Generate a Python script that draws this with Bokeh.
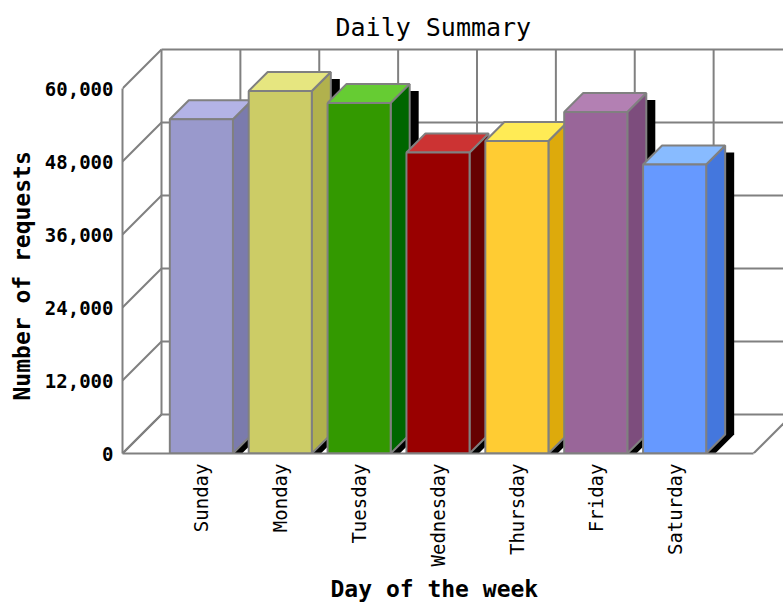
import math
from bokeh.plotting import figure
from bokeh.models import Range1d, FixedTicker, NumeralTickFormatter, Title
from bokeh.embed import file_html
from bokeh.resources import INLINE

# ---------------- data ----------------
days = ["Sunday", "Monday", "Tuesday", "Wednesday", "Thursday", "Friday", "Saturday"]
requests = [54950, 59600, 57630, 49470, 51380, 56150, 47500]
y_ticks = [0, 12000, 24000, 36000, 48000, 60000]

front_colors = ["#9999CC", "#CCCC66", "#339900", "#990000", "#FFCC33", "#996699", "#6699FF"]
top_colors = ["#B3B3E6", "#E6E680", "#66CC33", "#CC3333", "#FFEB55", "#B380B3", "#88BBFF"]
side_colors = ["#7B7BAD", "#B1B14D", "#006600", "#660000", "#DDAA0C", "#7D4D7D", "#4477DD"]

# ---------------- geometry / style ----------------
N_SLOTS = len(days) + 1
Y_MAX = y_ticks[-1]
FRAME_W, FRAME_H = 661, 406
PX_PER_SLOT = 631 / N_SLOTS
PX_PER_UNIT = 365 / Y_MAX


def px_x(n):
    return n / PX_PER_SLOT


def px_y(n):
    return n / PX_PER_UNIT


WX, WY = px_x(39), px_y(39)        # wall depth
BX, BY = px_x(19), px_y(19)        # bar depth
SHX, SHY = px_x(9), px_y(7)        # drop shadow offset
BAR_W = 0.8
GREY = "#808080"
FONT = "DejaVu Sans Mono"

p = figure(
    frame_width=FRAME_W, frame_height=FRAME_H,
    x_range=Range1d(0, FRAME_W / PX_PER_SLOT),
    y_range=Range1d(0, FRAME_H / PX_PER_UNIT),
    output_backend="svg", toolbar_location=None,
    min_border_left=122, min_border_right=0, min_border_top=47, min_border_bottom=153,
    background_fill_color="white", border_fill_color="white",
)
p.outline_line_color = None
p.xgrid.visible = False
p.ygrid.visible = False

# ---------------- walls ----------------
p.segment(x0=[WX] * len(y_ticks), y0=[t + WY for t in y_ticks],
          x1=[N_SLOTS + WX] * len(y_ticks), y1=[t + WY for t in y_ticks],
          line_color=GREY, line_width=2)
p.segment(x0=[k + WX for k in range(N_SLOTS + 1)], y0=[WY] * (N_SLOTS + 1),
          x1=[k + WX for k in range(N_SLOTS + 1)], y1=[Y_MAX + WY] * (N_SLOTS + 1),
          line_color=GREY, line_width=2)
p.segment(x0=[0] * len(y_ticks), y0=y_ticks,
          x1=[WX] * len(y_ticks), y1=[t + WY for t in y_ticks],
          line_color=GREY, line_width=2)
p.segment(x0=[0, N_SLOTS], y0=[0, 0], x1=[WX, N_SLOTS + WX], y1=[WY, WY],
          line_color=GREY, line_width=2)

# ---------------- bars ----------------
centers = [i + 1 for i in range(len(days))]
L = [c - BAR_W / 2 for c in centers]
R = [c + BAR_W / 2 for c in centers]

shadow_xs, shadow_ys = [], []
side_xs, side_ys, top_xs, top_ys = [], [], [], []
for l, r, v in zip(L, R, requests):
    st = v - SHY
    shadow_xs.append([l + SHX, l + SHX, l + SHX + BX, r + SHX + BX, r + SHX + BX, r + SHX])
    shadow_ys.append([0, st, st + BY, st + BY, BY, 0])
    side_xs.append([r, r, r + BX, r + BX])
    side_ys.append([0, v, v + BY, BY])
    top_xs.append([l, r, r + BX, l + BX])
    top_ys.append([v, v, v + BY, v + BY])

p.patches(shadow_xs, shadow_ys, fill_color="black", line_color=None)
p.patches(side_xs, side_ys, fill_color=side_colors, line_color=GREY, line_width=2)
p.patches(top_xs, top_ys, fill_color=top_colors, line_color=GREY, line_width=2)
p.quad(left=L, right=R, bottom=[0] * len(days), top=requests,
       fill_color=front_colors, line_color=GREY, line_width=2)

# ---------------- axes ----------------
xa = p.xaxis[0]
xa.ticker = FixedTicker(ticks=centers)
xa.major_label_overrides = {c: d for c, d in zip(centers, days)}
xa.major_label_orientation = math.pi / 2
xa.bounds = (0, N_SLOTS)
xa.axis_line_color = GREY
xa.axis_line_width = 2
xa.major_tick_in = 0
xa.major_tick_out = 0
xa.minor_tick_in = 0
xa.minor_tick_out = 0
xa.major_label_standoff = 10
xa.major_label_text_font = FONT
xa.major_label_text_font_size = "19px"
xa.major_label_text_color = "black"

ya = p.yaxis[0]
ya.ticker = FixedTicker(ticks=y_ticks)
ya.formatter = NumeralTickFormatter(format="0,0")
ya.bounds = (0, Y_MAX)
ya.axis_line_color = GREY
ya.axis_line_width = 2
ya.major_tick_in = 0
ya.major_tick_out = 0
ya.minor_tick_in = 0
ya.minor_tick_out = 0
ya.major_label_standoff = 9
ya.major_label_text_font = FONT
ya.major_label_text_font_size = "19px"
ya.major_label_text_font_style = "bold"
ya.major_label_text_color = "black"

# ---------------- titles ----------------
p.add_layout(Title(text="Daily Summary", text_font=FONT, text_font_size="25px",
                   text_font_style="normal", text_color="black",
                   align="left", offset=213, standoff=12), "above")
p.add_layout(Title(text="Day of the week", text_font=FONT, text_font_size="23px",
                   text_font_style="bold", text_color="black",
                   align="left", offset=208, standoff=8), "below")
p.add_layout(Title(text="Number of requests", text_font=FONT, text_font_size="23px",
                   text_font_style="bold", text_color="black",
                   align="left", offset=53, standoff=13), "left")

open("out.html", "w").write(file_html(p, INLINE))
